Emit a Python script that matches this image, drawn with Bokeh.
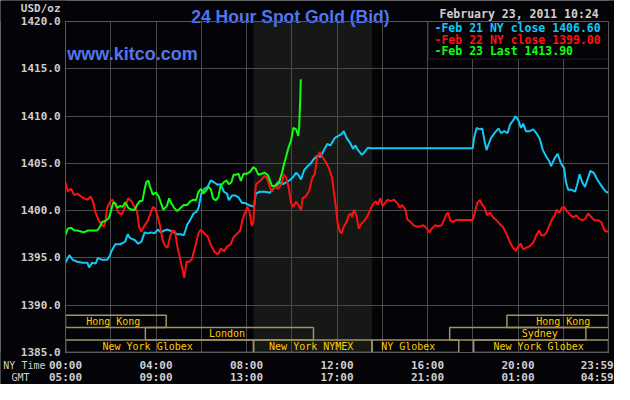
from bokeh.plotting import figure
from bokeh.models import (Range1d, FixedTicker, LinearAxis, Label, BoxAnnotation,
                          PrintfTickFormatter, ColumnDataSource)
from bokeh.core.properties import value
from bokeh.embed import file_html
from bokeh.resources import INLINE

# ---------------- data (hours after 00:00 NY time, USD/oz) ----------------
feb21_t = [0.00, 0.17, 0.32, 0.53, 0.75, 0.97, 1.04, 1.18, 1.33, 1.43, 1.62, 1.84, 1.95, 2.05,
           2.20, 2.41, 2.63, 2.75, 2.85, 3.06, 3.21, 3.35, 3.50, 3.64, 3.79, 3.93, 4.08, 4.22,
           4.36, 4.51, 4.73, 4.94, 5.09, 5.23, 5.38, 5.52, 5.66, 5.79, 5.88, 6.00, 6.13, 6.28,
           6.42, 6.57, 6.71, 6.86, 7.00, 7.14, 7.22, 7.36, 7.51, 7.65, 7.80, 7.94, 8.09, 8.23,
           8.33, 8.41, 8.59, 8.81, 9.03, 9.17, 9.32, 9.46, 9.61, 9.75, 9.90, 10.04, 10.19, 10.29,
           10.41, 10.55, 10.70, 10.84, 10.99, 11.13, 11.28, 11.42, 11.57, 11.71, 11.91, 12.06,
           12.20, 12.30, 12.42, 12.57, 12.71, 12.81, 12.93, 13.10, 13.22, 13.36, 13.48, 18.00,
           18.06, 18.17, 18.32, 18.42, 18.52, 18.61, 18.71, 18.81, 18.96, 19.14, 19.25, 19.39,
           19.54, 19.65, 19.80, 19.88, 20.01, 20.13, 20.23, 20.35, 20.52, 20.67, 20.81, 20.96,
           21.10, 21.25, 21.39, 21.46, 21.61, 21.75, 21.90, 22.04, 22.12, 22.22, 22.38, 22.52,
           22.62, 22.72, 22.84, 22.96, 23.10, 23.20, 23.35, 23.49, 23.64, 23.78, 23.93, 24.00]
feb21_v = [1394.5, 1395.3, 1394.8, 1394.6, 1394.5, 1394.5, 1394.0, 1394.5, 1394.4, 1395.0, 1394.8,
           1394.8, 1395.2, 1395.8, 1396.45, 1396.45, 1396.7, 1397.5, 1397.1, 1396.9, 1396.5,
           1396.7, 1397.7, 1397.6, 1397.7, 1397.6, 1398.0, 1397.7, 1397.9, 1398.0, 1397.8,
           1397.5, 1397.5, 1397.4, 1398.5, 1399.05, 1399.7, 1399.9, 1400.3, 1401.8, 1402.3,
           1402.5, 1403.2, 1403.0, 1402.75, 1402.8, 1402.0, 1401.8, 1401.1, 1401.6, 1401.6,
           1401.4, 1400.8, 1400.8, 1400.6, 1400.5, 1400.4, 1401.8, 1402.0, 1402.0, 1401.9,
           1402.3, 1402.6, 1403.0, 1402.8, 1403.0, 1403.2, 1403.5, 1404.0, 1403.8, 1403.3,
           1404.3, 1404.7, 1405.0, 1405.5, 1405.8, 1405.7, 1406.4, 1407.05, 1406.9, 1407.7,
           1407.9, 1408.1, 1408.4, 1407.7, 1407.2, 1406.55, 1406.9, 1406.4, 1405.9, 1406.2,
           1406.65, 1406.6, 1406.6, 1407.7, 1408.75, 1408.6, 1408.7, 1407.4, 1406.4, 1407.1,
           1407.7, 1408.2, 1408.7, 1408.2, 1408.4, 1408.2, 1409.1, 1409.6, 1410.0, 1409.6,
           1408.75, 1409.2, 1408.4, 1408.4, 1408.6, 1408.2, 1407.6, 1406.4, 1405.7, 1405.2,
           1404.7, 1405.5, 1406.0, 1405.0, 1404.5, 1403.0, 1402.2, 1402.2, 1402.0, 1402.8,
           1403.85, 1403.0, 1402.5, 1403.5, 1404.2, 1404.0, 1403.35, 1402.8, 1402.3, 1401.9,
           1402.0]

feb22_t = [0.00, 0.10, 0.25, 0.39, 0.53, 0.68, 0.82, 0.97, 1.11, 1.21, 1.33, 1.47, 1.62, 1.69,
           1.76, 1.84, 1.98, 2.08, 2.20, 2.34, 2.49, 2.56, 2.66, 2.77, 2.92, 3.02, 3.16, 3.25,
           3.35, 3.50, 3.64, 3.74, 3.86, 3.97, 4.08, 4.19, 4.29, 4.41, 4.51, 4.62, 4.73, 4.84,
           4.94, 5.04, 5.16, 5.25, 5.35, 5.48, 5.59, 5.74, 5.88, 5.99, 6.13, 6.28, 6.42, 6.57,
           6.71, 6.78, 6.86, 7.00, 7.14, 7.29, 7.43, 7.58, 7.72, 7.83, 7.94, 8.04, 8.13, 8.23,
           8.30, 8.38, 8.42, 8.52, 8.67, 8.81, 8.93, 9.03, 9.13, 9.25, 9.39, 9.54, 9.65, 9.75,
           9.86, 9.97, 10.07, 10.19, 10.29, 10.41, 10.48, 10.62, 10.77, 10.91, 11.01, 11.13,
           11.25, 11.35, 11.49, 11.64, 11.78, 11.88, 11.97, 12.03, 12.13, 12.20, 12.30, 12.42,
           12.52, 12.61, 12.67, 12.75, 12.86, 12.96, 13.07, 13.22, 13.36, 13.51, 13.62, 13.72,
           13.80, 13.91, 14.01, 14.12, 14.23, 14.38, 14.52, 14.67, 14.78, 14.88, 15.03, 15.10,
           15.25, 15.39, 15.54, 15.68, 15.83, 15.97, 16.09, 16.19, 16.33, 16.48, 16.62, 16.72,
           16.84, 16.91, 17.01, 17.13, 17.25, 18.00, 18.09, 18.20, 18.32, 18.42, 18.52, 18.64,
           18.75, 18.90, 19.04, 19.19, 19.33, 19.48, 19.62, 19.77, 19.91, 20.01, 20.12, 20.23,
           20.38, 20.52, 20.67, 20.81, 20.93, 21.03, 21.17, 21.28, 21.39, 21.51, 21.62, 21.71,
           21.83, 21.94, 22.04, 22.14, 22.29, 22.43, 22.58, 22.72, 22.84, 22.96, 23.10, 23.25,
           23.39, 23.54, 23.68, 23.83, 23.93, 24.00]
feb22_v = [1403.0, 1402.06, 1402.3, 1401.65, 1401.8, 1401.5, 1401.3, 1401.15, 1401.5, 1401.0,
           1399.8, 1398.95, 1398.45, 1398.3, 1398.8, 1400.3, 1401.0, 1401.15, 1400.6, 1399.8,
           1399.6, 1399.95, 1400.6, 1401.3, 1401.0, 1400.5, 1399.95, 1398.3, 1397.8, 1398.45,
           1398.95, 1399.6, 1400.4, 1400.2, 1399.3, 1398.3, 1396.9, 1396.25, 1396.1, 1397.25,
           1397.9, 1397.8, 1396.25, 1395.2, 1393.9, 1392.9, 1394.6, 1394.6, 1394.9, 1396.25,
           1397.65, 1398.0, 1397.6, 1397.3, 1396.4, 1395.7, 1395.4, 1395.5, 1396.0, 1395.7,
           1396.2, 1396.4, 1397.2, 1397.55, 1397.9, 1399.1, 1399.8, 1400.4, 1399.9, 1398.4,
           1398.75, 1401.8, 1402.8, 1403.0, 1403.3, 1403.7, 1403.3, 1402.5, 1402.0, 1402.6,
           1402.3, 1402.8, 1403.8, 1403.5, 1402.5, 1400.8, 1400.4, 1400.95, 1400.6, 1400.1,
           1401.3, 1401.5, 1402.1, 1403.5, 1403.8, 1405.7, 1406.2, 1405.7, 1405.2, 1404.5,
           1403.5, 1401.7, 1400.0, 1398.6, 1397.8, 1397.6, 1398.3, 1398.8, 1399.5, 1399.7,
           1399.3, 1400.1, 1399.5, 1398.1, 1398.6, 1398.95, 1399.5, 1400.3, 1400.8, 1401.0,
           1400.6, 1401.3, 1400.5, 1400.8, 1401.15, 1401.0, 1401.15, 1400.8, 1400.3, 1400.6,
           1400.1, 1399.1, 1398.8, 1398.45, 1398.3, 1398.35, 1398.45, 1398.1, 1397.7, 1398.1,
           1398.45, 1398.35, 1398.45, 1398.95, 1399.6, 1399.8, 1398.95, 1398.8, 1399.0, 1399.0,
           1399.8, 1400.8, 1401.15, 1400.6, 1400.3, 1399.5, 1399.8, 1399.3, 1399.0, 1398.6,
           1398.3, 1397.6, 1396.8, 1396.1, 1395.75, 1396.25, 1396.5, 1395.9, 1396.1, 1396.25,
           1396.6, 1397.4, 1397.9, 1397.4, 1397.4, 1397.8, 1398.45, 1399.1, 1399.5, 1400.1,
           1399.8, 1400.3, 1400.4, 1400.0, 1399.6, 1399.3, 1399.5, 1399.1, 1399.0, 1399.1,
           1399.7, 1399.3, 1398.95, 1399.0, 1398.8, 1397.9, 1397.8, 1397.8]

feb23_t = [0.00, 0.10, 0.25, 0.39, 0.53, 0.68, 0.82, 0.97, 1.11, 1.26, 1.40, 1.52, 1.62, 1.76,
           1.91, 2.01, 2.10, 2.20, 2.30, 2.41, 2.53, 2.64, 2.77, 2.92, 3.06, 3.16, 3.28, 3.40,
           3.50, 3.57, 3.66, 3.74, 3.86, 4.00, 4.12, 4.22, 4.32, 4.41, 4.48, 4.58, 4.67, 4.80,
           4.94, 5.09, 5.23, 5.38, 5.52, 5.66, 5.77, 5.88, 5.99, 6.09, 6.20, 6.32, 6.42, 6.52,
           6.64, 6.75, 6.86, 7.00, 7.12, 7.22, 7.33, 7.43, 7.54, 7.65, 7.75, 7.87, 8.01, 8.16,
           8.30, 8.41, 8.52, 8.67, 8.81, 8.93, 9.03, 9.13, 9.25, 9.36, 9.46, 9.57, 9.65, 9.75,
           9.86, 9.97, 10.07, 10.19, 10.29, 10.33, 10.38, 10.40]
feb23_v = [1397.4, 1398.1, 1398.2, 1397.9, 1397.9, 1397.8, 1397.7, 1397.9, 1397.9, 1397.9,
           1397.9, 1398.3, 1398.8, 1398.9, 1399.2, 1399.95, 1400.8, 1400.8, 1400.3, 1400.5,
           1400.4, 1400.9, 1400.3, 1400.1, 1400.1, 1400.6, 1401.0, 1401.05, 1402.3, 1403.0,
           1403.2, 1402.5, 1401.7, 1401.9, 1401.5, 1400.8, 1400.1, 1400.3, 1400.5, 1401.3,
           1400.8, 1400.3, 1399.95, 1400.3, 1400.6, 1400.6, 1401.0, 1401.15, 1401.1, 1402.0,
           1402.3, 1401.8, 1402.1, 1402.5, 1402.3, 1401.3, 1401.1, 1401.4, 1402.65, 1403.0,
           1403.2, 1402.8, 1403.0, 1403.8, 1403.8, 1403.9, 1403.15, 1403.9, 1403.9, 1404.1,
           1404.6, 1404.4, 1403.8, 1403.9, 1404.0, 1403.8, 1403.2, 1402.6, 1402.6, 1402.9,
           1403.15, 1404.0, 1404.85, 1405.7, 1406.7, 1407.4, 1408.75, 1408.6, 1407.9, 1408.9,
           1412.1, 1413.9]

legend_names = ["Feb 21 NY close", "Feb 22 NY close", "Feb 23 Last"]
legend_values = [1406.60, 1399.00, 1413.90]

y_ticks = [1385, 1390, 1395, 1400, 1405, 1410, 1415, 1420]
y_unit_label = "USD/oz"
x_grid_hours = [0, 2, 4, 6, 8, 10, 12, 14, 16, 18, 20, 22, 24]
time_tick_hours = [0, 4, 8, 12, 16, 20, 23.5]
ny_time_labels = ["00:00", "04:00", "08:00", "12:00", "16:00", "20:00", "23:59"]
gmt_labels = ["05:00", "09:00", "13:00", "17:00", "21:00", "01:00", "04:59"]
row_names = ["NY Time", "GMT"]

nymex_hours = [8.31, 13.55]

session_names = ["Hong Kong", "London", "New York Globex", "New York NYMEX", "NY Globex",
                 "Sydney", "New York Globex", "Hong Kong"]
session_start = [0.0, 3.53, 0.0, 8.31, 13.55, 16.98, 18.04, 19.51]
session_end = [4.45, 10.96, 8.31, 13.55, 17.38, 23.0, 24.0, 24.0]
session_row = [2, 1, 0, 0, 0, 1, 0, 2]
session_label_hour = [2.11, 7.14, 3.63, 10.86, 15.15, 20.96, 20.91, 22.0]

date_text = "February 23, 2011 10:24"
title_text = "24 Hour Spot Gold (Bid)"
site_text = "www.kitco.com"

# ---------------- styles ----------------
BG = "#040307"
GRID = "#4a4a4a"
FRAME = "#595959"
TXT = "#cfcfcf"
BLUE = "#5076ef"
SESS_LINE = "#9a9466"
SESS_TXT = "#ffcc00"
SHADE = "#151815"
COLORS = ["#12c8f4", "#ff1010", "#10ff10"]
MONO = "DejaVu Sans Mono"
ROW_H = 1.318
# the plot frame spans the whole canvas; the chart area is 0..24 h x 1385..1420,
# with margins for the header, the axis labels and the time rows around it
X_LEFT, X_RIGHT = -2.873, 24.265
Y_BOT, Y_TOP = 1381.62, 1422.22

p = figure(width=614, height=384, x_range=Range1d(X_LEFT, X_RIGHT),
           y_range=Range1d(Y_BOT, Y_TOP),
           output_backend="svg", toolbar_location=None,
           min_border_left=0, min_border_right=0, min_border_top=0, min_border_bottom=0,
           background_fill_color=BG, border_fill_color=BG, outline_line_color=None)

# shaded NYMEX session
p.add_layout(BoxAnnotation(left=nymex_hours[0], right=nymex_hours[1], top=1420, bottom=1385,
                           fill_color=SHADE, fill_alpha=1, line_color=None, level="image"))

# grid
p.xgrid.ticker = FixedTicker(ticks=x_grid_hours)
p.ygrid.ticker = FixedTicker(ticks=y_ticks)
p.grid.grid_line_color = GRID
p.grid.grid_line_width = 1

# strips around the chart area hide the grid lines there
for kw in [dict(bottom=1420.06), dict(top=1384.94), dict(right=-0.025), dict(left=24.025)]:
    p.add_layout(BoxAnnotation(fill_color=BG, fill_alpha=1, line_color=None, level="glyph",
                               **kw))


def style_axis(ax, size="11px", style="bold"):
    ax.axis_line_color = None
    ax.major_tick_line_color = None
    ax.minor_tick_line_color = None
    ax.major_tick_out = 0
    ax.major_tick_in = 0
    ax.minor_tick_out = 0
    ax.minor_tick_in = 0
    ax.major_label_text_font = MONO
    ax.major_label_text_font_style = style
    ax.major_label_text_font_size = size
    ax.major_label_text_color = TXT


# y axis along the chart's left edge (unit label as an extra tick above the top gridline)
yax = p.yaxis[0]
yax.ticker = FixedTicker(ticks=y_ticks + [1421.41])
yax.major_label_overrides = {1421.41: y_unit_label}
yax.formatter = PrintfTickFormatter(format="%.1f")
yax.fixed_location = 0
style_axis(yax)
yax.major_label_standoff = 5

# row names of the two time axes
for nm, yv, so in [(row_names[0], 1383.65, 20), (row_names[1], 1382.33, 36)]:
    rax = LinearAxis(ticker=FixedTicker(ticks=[yv]), major_label_overrides={yv: nm},
                     fixed_location=0)
    style_axis(rax, size="10px", style="normal")
    rax.major_label_standoff = so
    p.add_layout(rax, "left")

# x axes: NY time and GMT along the chart's bottom edge
xax = p.xaxis[0]
xax.ticker = FixedTicker(ticks=time_tick_hours)
xax.major_label_overrides = dict(zip(time_tick_hours, ny_time_labels))
xax.fixed_location = 1385
style_axis(xax)
xax.major_label_standoff = 6

gax = LinearAxis(ticker=FixedTicker(ticks=time_tick_hours),
                 major_label_overrides=dict(zip(time_tick_hours, gmt_labels)),
                 fixed_location=1385)
style_axis(gax)
gax.major_label_standoff = 18
p.add_layout(gax, "below")

# session boxes
sess = ColumnDataSource(dict(
    left=session_start, right=session_end,
    bottom=[1385 + r * ROW_H for r in session_row],
    top=[1385 + (r + 1) * ROW_H for r in session_row],
    lx=session_label_hour,
    ly=[1385 + (r + 0.5) * ROW_H for r in session_row],
    name=session_names))
p.quad(left="left", right="right", bottom="bottom", top="top", source=sess,
       fill_alpha=0, line_color=SESS_LINE, line_width=1.5)
p.text(x="lx", y="ly", text="name", source=sess, text_font=value(MONO),
       text_font_size="10px", text_color=SESS_TXT, text_align="center",
       text_baseline="middle")

# price lines
for t, v, c in [(feb21_t, feb21_v, COLORS[0]), (feb22_t, feb22_v, COLORS[1]),
                (feb23_t, feb23_v, COLORS[2])]:
    p.line(t, v, line_color=c, line_width=2)

# chart area border
p.quad(left=[0], right=[24], bottom=[1385], top=[1420], fill_alpha=0, line_color=FRAME,
       line_width=1, level="overlay")

# legend box
p.add_layout(BoxAnnotation(left=16.04, right=24, top=1420, bottom=1416.02, fill_color=BG,
                           fill_alpha=1, line_color=FRAME, line_width=1))


def lab(x, y, text, size="11px", color=TXT, font=MONO, style="bold", align="left",
        baseline="middle"):
    p.add_layout(Label(x=x, y=y, text=text, text_font=font, text_font_size=size,
                       text_color=color, text_font_style=style, text_align=align,
                       text_baseline=baseline))


for i, (nm, val) in enumerate(zip(legend_names, legend_values)):
    lab(16.31, 1419.28 - i * 1.22, "-%s %.2f" % (nm, val), size="11.5px", color=COLORS[i])

lab(0.08, 1416.53, site_text, size="18px", color=BLUE, font="Liberation Sans",
    style="bold", baseline="alphabetic")
lab(16.53, 1420.80, date_text, size="11.5px")
lab(9.94, 1420.47, title_text, size="17.5px", color=BLUE, font="Liberation Sans",
    style="bold", align="center", baseline="alphabetic")

open("out.html", "w").write(file_html(p, INLINE))
